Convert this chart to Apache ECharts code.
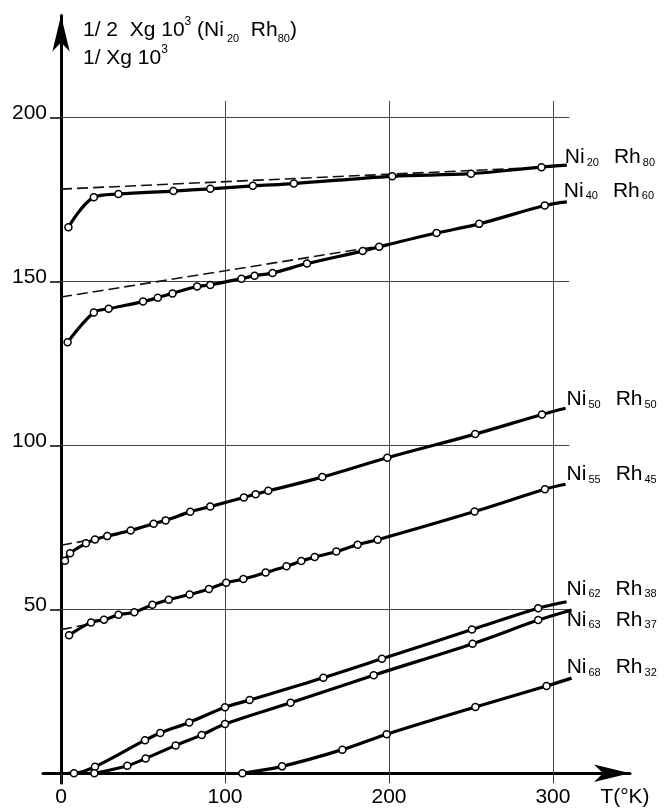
<!DOCTYPE html>
<html>
<head>
<meta charset="utf-8">
<script src="https://cdn.jsdelivr.net/npm/echarts@6/dist/echarts.min.js"></script>
<style>
html, body { margin: 0; padding: 0; background: #fff; }
#main { width: 664px; height: 809px; }
</style>
</head>
<body>
<div id="main"></div>
<script>
"use strict";
let tNi20 = [4.5, 20, 35, 68.5, 91, 117, 142, 202, 250, 293];
let vNi20 = [166.5, 175.6, 176.6, 177.5, 178.2, 179.1, 179.8, 182.0, 182.8, 184.8];
let tNi40 = [4, 20, 29, 50, 59, 68, 83, 91, 110, 118, 129, 150, 184, 194, 229, 255, 295];
let vNi40 = [131.4, 140.5, 141.6, 143.8, 145.0, 146.3, 148.4, 148.9, 150.8, 151.7, 152.5, 155.4, 159.2, 160.5, 164.7, 167.5, 173.1];
let tNi50 = [2.4, 5.5, 15.2, 20.7, 28.2, 42.5, 56.5, 63.8, 78.8, 91, 111.5, 118.7, 126.4, 159.3, 199, 252.6, 293.3];
let vNi50 = [64.8, 67.1, 70.1, 71.3, 72.3, 74.0, 76.1, 77.1, 79.7, 81.3, 84.1, 85.1, 86.1, 90.3, 96.2, 103.4, 109.4];
let tNi55 = [4.9, 18.3, 26.2, 35, 44.7, 55.7, 65.7, 78.4, 90.2, 100.7, 111.2, 124.8, 137.5, 146.5, 154.7, 167.9, 180.9, 193.1, 252.2, 295.1];
let vNi55 = [42.1, 46.0, 46.8, 48.3, 49.1, 51.4, 52.9, 54.5, 56.2, 58.1, 59.2, 61.2, 63.1, 64.7, 65.9, 67.6, 69.7, 71.2, 79.8, 86.6];
let tNi62 = [7.9, 20.7, 51.2, 60.5, 78.2, 100, 115, 160, 195.7, 250.6, 291];
let vNi62 = [0, 2.0, 10.1, 12.3, 15.5, 20.1, 22.3, 29.1, 34.9, 43.8, 50.3];
let tNi63 = [20.3, 40.4, 51.6, 69.9, 85.8, 100, 140, 190.7, 251, 291];
let vNi63 = [0, 2.3, 4.5, 8.5, 11.7, 15.0, 21.5, 29.9, 39.5, 46.7];
let tNi68 = [110.6, 134.8, 171.6, 198.6, 252.7, 296.1];
let vNi68 = [0, 2.1, 7.2, 11.9, 20.2, 26.6];

// where each drawn curve starts / ends (beyond the measured points)
let lineStartT = [null, null, null, null, 4.3, null, null];
let lineStartV = [null, null, null, null, 0, null, null];
let lineEndT = [308.5, 308.5, 307.7, 307.7, 308.3, 311.4, 311.4];
let lineEndV = [185.4, 174.2, 111.3, 88.1, 52.3, 49.8, 29.0];
let niSub = ['20', '40', '50', '55', '62', '63', '68'];
let rhSub = ['80', '60', '50', '45', '38', '37', '32'];

// dashed extrapolations
let dashNi20T = [0, 300], dashNi20V = [178.1, 184.9];
let dashNi40T = [0, 205], dashNi40V = [145.2, 161.6];
let dashNi50T = [0, 15], dashNi50V = [69.5, 70.9];
let dashNi55T = [0, 15], dashNi55V = [43.8, 45.3];

let xTicks = [0, 100, 200, 300];
let yTicks = [50, 100, 150, 200];
let gridX = [100, 200, 300];
let gridY = [50, 100, 150, 200];
let gridXTop = 205;
let gridYEnd = 310;

const FONT = 'Liberation Sans';
let myChart = echarts.init(document.getElementById('main'));

// label placement next to the curve end: [dx, dy, verticalAlign]
let labelPlace = [[-2, 3, 'bottom'], [-3, 0, 'bottom'], [1, 2, 'bottom'], [1, 1, 'bottom'],
                  [0, -2, 'bottom'], [-5, -1, 'top'], [-5, 0, 'bottom']];

function curve(i, ts, vs) {
    let data = [];
    if (lineStartT[i] != null) data.push({ value: [lineStartT[i], lineStartV[i]], symbol: 'none' });
    for (let k = 0; k < ts.length; k++) data.push([ts[k], vs[k]]);
    let p = labelPlace[i];
    data.push({
        value: [lineEndT[i], lineEndV[i]],
        symbolSize: 0,
        itemStyle: { borderWidth: 0 },
        label: {
            show: true,
            position: [p[0], p[1]],
            align: 'left',
            verticalAlign: p[2],
            formatter: '{n|Ni}{s|' + niSub[i] + '}{g| }{n|Rh}{s|' + rhSub[i] + '}',
            rich: {
                n: { fontFamily: FONT, fontSize: 21, lineHeight: 22, color: '#000', verticalAlign: 'middle' },
                s: { fontFamily: FONT, fontSize: 11, lineHeight: 14, color: '#000', verticalAlign: 'bottom', padding: [0, 0, 0, 2] },
                g: { width: 15 }
            }
        }
    });
    return {
        type: 'line',
        data: data,
        smooth: 0.35,
        showAllSymbol: true,
        symbol: 'circle',
        symbolSize: 7,
        itemStyle: { color: '#fff', borderColor: '#000', borderWidth: 1.5 },
        lineStyle: { color: '#000', width: 3.2 },
        z: 3
    };
}

function dashed(ts, vs) {
    return {
        type: 'line',
        data: ts.map((t, k) => [t, vs[k]]),
        symbol: 'none',
        lineStyle: { color: '#111', width: 1.6, type: [11, 5] },
        z: 2
    };
}

let gridLines = [];
gridY.forEach(v => gridLines.push([{ coord: [0, v] }, { coord: [gridYEnd, v] }]));
gridX.forEach(t => gridLines.push([{ coord: [t, 0] }, { coord: [t, gridXTop] }]));

let series = [
    curve(0, tNi20, vNi20),
    curve(1, tNi40, vNi40),
    curve(2, tNi50, vNi50),
    curve(3, tNi55, vNi55),
    curve(4, tNi62, vNi62),
    curve(5, tNi63, vNi63),
    curve(6, tNi68, vNi68),
    dashed(dashNi20T, dashNi20V),
    dashed(dashNi40T, dashNi40V),
    dashed(dashNi50T, dashNi50V),
    dashed(dashNi55T, dashNi55V)
];
series[7].markLine = {
    silent: true,
    symbol: ['none', 'none'],
    label: { show: false },
    lineStyle: { color: '#444', width: 1, type: 'solid' },
    z: 1,
    data: gridLines
};

let option = {
    animation: false,
    backgroundColor: '#fff',
    title: {
        left: 83,
        top: 16,
        padding: 0,
        text: '{a|1/ 2  Xg 10}{sup|3}{a| (Ni}{sub| 20}{a|  Rh}{sub|80}{a|)}\n{a|1/ Xg 10}{sup|3}',
        textStyle: {
            fontWeight: 'normal',
            rich: {
                a: { fontFamily: FONT, fontSize: 21, fontWeight: 'normal', lineHeight: 28, color: '#000' },
                sup: { fontFamily: FONT, fontSize: 12, fontWeight: 'normal', lineHeight: 15, color: '#000', verticalAlign: 'top' },
                sub: { fontFamily: FONT, fontSize: 11, fontWeight: 'normal', lineHeight: 21, color: '#000', verticalAlign: 'bottom' }
            }
        }
    },
    grid: { left: 43, right: 34, top: 15.6, bottom: 25.9, outerBoundsMode: 'none' },
    xAxis: {
        type: 'value',
        min: -11,
        max: 347,
        name: 'T(°K)',
        nameLocation: 'end',
        nameGap: -5,
        nameTextStyle: { fontFamily: FONT, fontSize: 21, color: '#000', align: 'center', verticalAlign: 'top', padding: [13, 0, 0, 0] },
        axisLine: { onZero: true, lineStyle: { color: '#000', width: 3 }, symbol: ['none', 'arrow'], symbolSize: [13, 36], symbolOffset: [0, 0] },
        axisTick: { show: true, customValues: xTicks, length: 10, lineStyle: { color: '#333', width: 1 } },
        axisLabel: { customValues: xTicks, fontFamily: FONT, fontSize: 21, color: '#000', margin: 3.5 },
        splitLine: { show: false }
    },
    yAxis: {
        type: 'value',
        min: -3,
        max: 231,
        axisLine: { onZero: true, lineStyle: { color: '#000', width: 3 }, symbol: ['none', 'arrow'], symbolSize: [13, 36], symbolOffset: [0, 0] },
        axisTick: { show: true, customValues: yTicks, length: 11, lineStyle: { color: '#000', width: 1.5 } },
        axisLabel: { customValues: yTicks, fontFamily: FONT, fontSize: 21, color: '#000', margin: -4, verticalAlign: 'bottom', lineHeight: 9 },
        splitLine: { show: false }
    },
    series: series
};
myChart.setOption(option);
</script>
</body>
</html>
